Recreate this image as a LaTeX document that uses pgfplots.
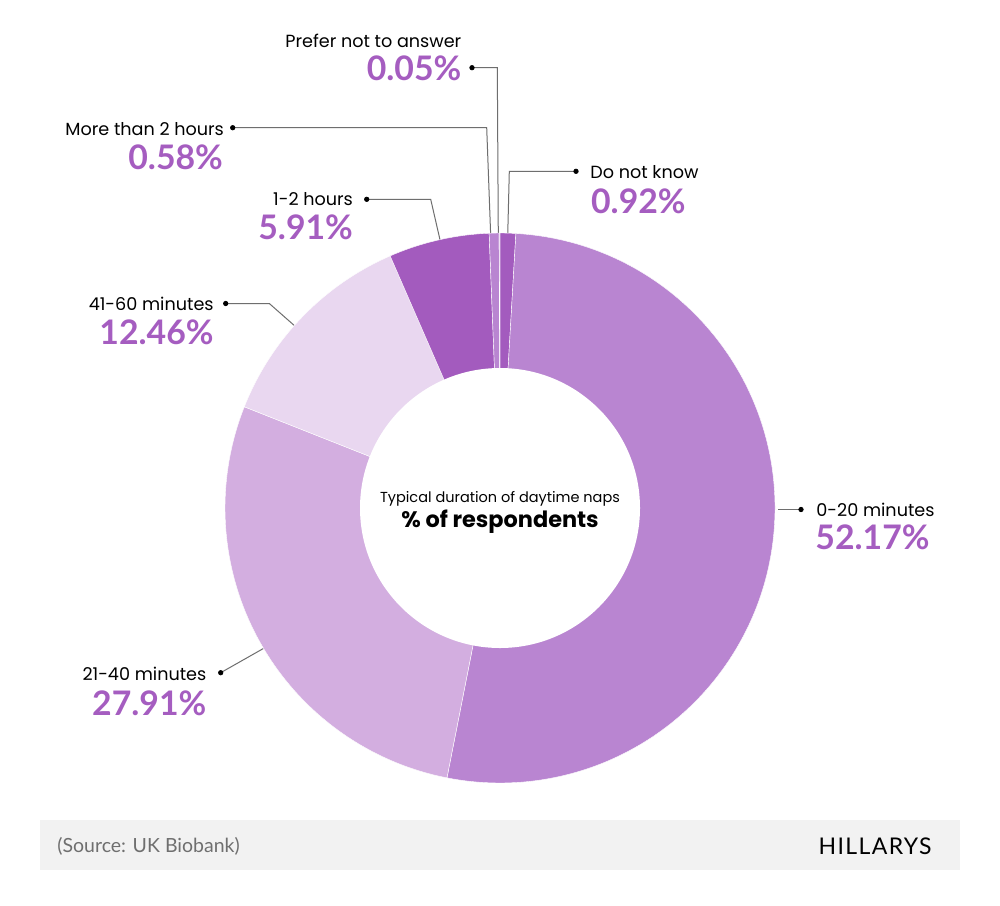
\documentclass[border=0pt]{standalone}
\usepackage{pgfplots}
\pgfplotsset{compat=1.18}
\usepackage{pgfplotstable}
\usepackage{fontspec}
\setmainfont{Poppins}
\newfontfamily\latofont{Lato}
\newfontfamily\logofont{Lato}[LetterSpace=6]

\definecolor{pDark}{HTML}{A35BBE}
\definecolor{pMid}{HTML}{B985D1}
\definecolor{pLight}{HTML}{D3AEE0}
\definecolor{pPale}{HTML}{E9D7F0}
\definecolor{pctcol}{HTML}{A55DC0}
\definecolor{leadcol}{HTML}{6E6E6E}
\definecolor{barcol}{HTML}{F2F2F2}
\definecolor{srccol}{HTML}{6F6F6F}

\pgfplotstableread[col sep=comma]{
label,value,fillc
Do not know,0.92,pDark
0-20 minutes,52.17,pMid
21-40 minutes,27.91,pLight
41-60 minutes,12.46,pPale
1-2 hours,5.91,pDark
More than 2 hours,0.58,pMid
Prefer not to answer,0.05,pLight
}\naps

\newcommand{\lblfont}{\fontsize{8.8}{10}\selectfont}
\newcommand{\pctfont}{\latofont\bfseries\fontsize{16.9}{18}\selectfont\color{pctcol}}

\begin{document}
\begin{tikzpicture}
\begin{axis}[
  scale only axis, width=500pt, height=452.5pt,
  xmin=0, xmax=1000, ymin=0, ymax=905, y dir=reverse,
  hide axis, clip=false,
  leader/.style={leadcol, line width=0.5pt, no markers},
  dot/.style={black, only marks, mark=*, mark size=1.1pt},
]
% background and footer bar
\fill[white] (axis cs:0,0) rectangle (axis cs:1000,905);
\fill[barcol] (axis cs:40,820) rectangle (axis cs:960,870);

% leader lines
\addplot[leader] coordinates {(472,67.7) (497.3,67.7) (498.3,236)};
\addplot[leader] coordinates {(232.7,127.7) (486.7,127.7) (490.7,236)};
\addplot[leader] coordinates {(576,171.3) (509.3,171.3) (507.7,236)};
\addplot[leader] coordinates {(366.7,199.3) (430.7,199.3) (440.5,242)};
\addplot[leader] coordinates {(225.7,303.5) (269.3,303.5) (296,327)};
\addplot[leader] coordinates {(778,509.5) (801,509.5)};
\addplot[leader] coordinates {(220.7,672.7) (266,647)};
\addplot[dot] coordinates {(472,67.7) (232.7,127.7) (576,171.3) (366.7,199.3) (225.7,303.5) (801,509.5) (220.7,672.7)};

% donut slices, clockwise from the top
\pgfplotstablegetrowsof{\naps}
\pgfmathtruncatemacro\lastrow{\pgfplotsretval-1}
\def\cum{90}
\pgfplotsforeachungrouped \i in {0,...,\lastrow}{%
  \pgfplotstablegetelem{\i}{value}\of\naps
  \let\val\pgfplotsretval
  \pgfplotstablegetelem{\i}{fillc}\of\naps
  \let\col\pgfplotsretval
  \pgfmathsetmacro\endang{\cum-3.6*\val}
  \edef\slicecmd{\noexpand\fill[\col, draw=white, line width=0.2pt] (axis cs:500,508) -- ++(\cum:137.5pt) arc[start angle=\cum, end angle=\endang, radius=137.5pt] -- cycle;}
  \slicecmd
  \let\cum\endang
}
\fill[white] (axis cs:500,508) circle[radius=70pt];

% centre text
\node[anchor=base, inner sep=0, font=\fontsize{7.25}{9}\selectfont] at (axis cs:500,502.3) {Typical duration of daytime naps};
\node[anchor=base, inner sep=0, font=\bfseries\fontsize{11.2}{13}\selectfont] at (axis cs:500,527) {\% of respondents};

% labels
\node[anchor=base east, inner sep=0, font=\lblfont] at (axis cs:461.7,47.3) {Prefer not to answer};
\node[anchor=base east, inner sep=0, font=\pctfont] at (axis cs:461.7,80.7) {0.05\%};
\node[anchor=base east, inner sep=0, font=\lblfont] at (axis cs:224.3,135) {More than 2 hours};
\node[anchor=base east, inner sep=0, font=\pctfont] at (axis cs:223.3,169.3) {0.58\%};
\node[anchor=base east, inner sep=0, font=\lblfont] at (axis cs:353.3,205) {1-2 hours};
\node[anchor=base east, inner sep=0, font=\pctfont] at (axis cs:353.3,239.3) {5.91\%};
\node[anchor=base east, inner sep=0, font=\lblfont] at (axis cs:214,310) {41-60 minutes};
\node[anchor=base east, inner sep=0, font=\pctfont] at (axis cs:214,344.3) {12.46\%};
\node[anchor=base west, inner sep=0, font=\lblfont] at (axis cs:590,178.3) {Do not know};
\node[anchor=base west, inner sep=0, font=\pctfont] at (axis cs:590.7,213.3) {0.92\%};
\node[anchor=base west, inner sep=0, font=\lblfont] at (axis cs:816,516.7) {0-20 minutes};
\node[anchor=base west, inner sep=0, font=\pctfont] at (axis cs:815,549.3) {52.17\%};
\node[anchor=base east, inner sep=0, font=\lblfont] at (axis cs:206.7,680) {21-40 minutes};
\node[anchor=base east, inner sep=0, font=\pctfont] at (axis cs:206.7,715) {27.91\%};

% footer
\node[anchor=base west, inner sep=0, font=\latofont\fontsize{9.75}{11}\selectfont, text=srccol] at (axis cs:57,852) {(Source: UK Biobank)};
\node[anchor=base east, inner sep=0, font=\logofont\fontsize{11.5}{13}\selectfont] at (axis cs:932,854) {HILLARYS};
\end{axis}
\end{tikzpicture}
\end{document}
